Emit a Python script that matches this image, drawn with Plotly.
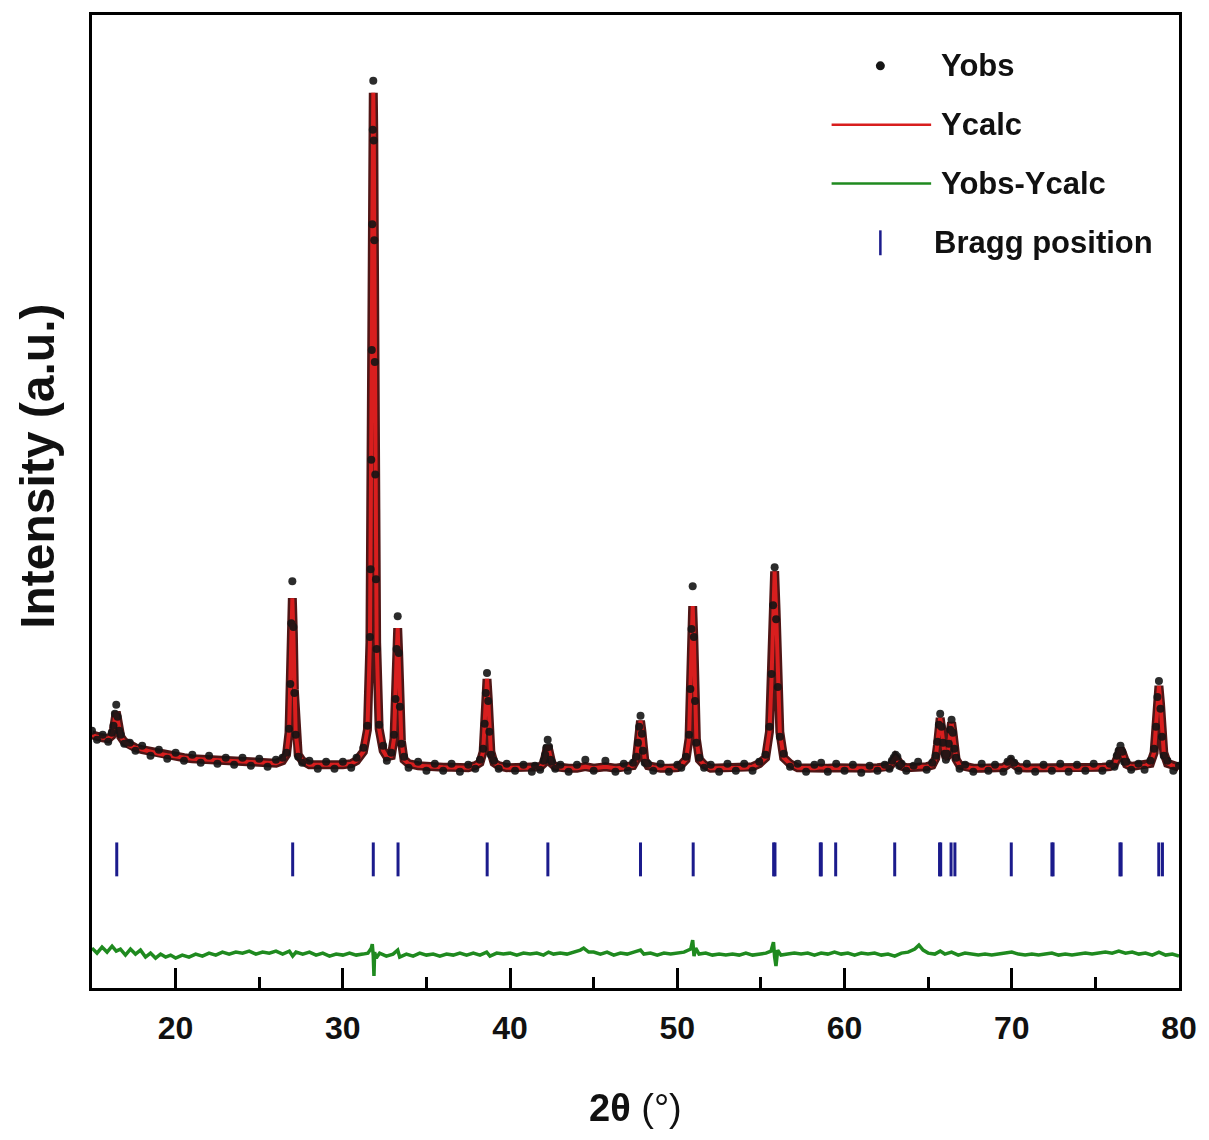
import plotly.graph_objects as go

# ---------------- data ----------------
# 2-theta grid (degrees) shared by observed and calculated patterns
two_theta = [
    15.0, 15.3, 15.64, 15.97, 16.18, 16.29, 16.37, 16.45, 16.53, 16.62, 16.72, 16.93, 17.26,
    17.6, 18.0, 18.5, 19.0, 19.5, 20.0, 20.5, 21.0, 21.5, 22.0, 22.5, 23.0, 23.5, 24.0, 24.5, 25.0, 25.5, 26.0,
    26.39, 26.63, 26.78, 26.86, 26.92, 26.98, 27.04, 27.10, 27.18, 27.33, 27.57,
    28.0, 28.5, 29.0, 29.5, 30.0, 30.5,
    30.82, 31.23, 31.47, 31.62, 31.66, 31.70, 31.73, 31.76, 31.79, 31.82, 31.85, 31.88, 31.91, 31.94, 31.98, 32.02, 32.17, 32.41,
    32.63, 32.90, 33.06, 33.15, 33.215, 33.28, 33.345, 33.41, 33.50, 33.66, 33.93,
    34.5, 35.0, 35.5, 36.0, 36.5, 37.0, 37.5,
    37.92, 38.20, 38.39, 38.48, 38.55, 38.62, 38.69, 38.76, 38.85, 39.04, 39.32,
    39.8, 40.3, 40.8, 41.3,
    41.49, 41.80, 42.00, 42.10, 42.17, 42.25, 42.33, 42.40, 42.50, 42.70, 43.01,
    43.5, 44.0, 44.5, 45.0, 45.7, 46.3, 46.8,
    47.04, 47.35, 47.55, 47.65, 47.72, 47.80, 47.88, 47.95, 48.05, 48.25, 48.56,
    49.0, 49.5, 50.0,
    50.24, 50.52, 50.70, 50.78, 50.85, 50.92, 50.99, 51.06, 51.14, 51.32, 51.60,
    52.0, 52.5, 53.0, 53.5, 54.0, 54.5,
    54.90, 55.28, 55.51, 55.63, 55.73, 55.82, 55.91, 56.01, 56.13, 56.36, 56.74,
    57.2, 57.7, 58.2, 58.6, 59.0, 59.5, 60.0, 60.5, 61.0, 61.5,
    61.97, 62.41, 62.69, 62.83, 62.94, 63.05, 63.16, 63.27, 63.41, 63.69, 64.13, 64.4,
    64.91, 65.24, 65.45, 65.555, 65.64, 65.72, 65.80, 65.885, 65.99, 66.06, 66.13, 66.235, 66.32, 66.40, 66.48, 66.565, 66.67, 66.88, 67.21,
    67.7, 68.2, 68.6, 69.0, 69.5, 69.75, 69.95, 70.15, 70.4, 70.9,
    71.4, 71.9, 72.4, 72.9, 73.4, 73.9, 74.4, 74.9,
    75.42, 75.86, 76.14, 76.28, 76.39, 76.50, 76.61, 76.72, 76.86, 77.14, 77.58,
    77.94, 78.29, 78.51, 78.62, 78.71, 78.80, 78.89, 78.98, 79.09, 79.31, 79.66, 80.0,
]

# calculated intensity (a.u.)
y_calc = [
    254, 252, 251, 250, 253, 260, 271, 277, 270, 260, 252, 247, 243,
    241, 239, 237, 235, 233.5, 232, 231, 230, 229.5, 229, 228.5, 228, 227.5, 227, 226.5, 226, 225.5, 225.5,
    228, 234, 256, 299, 356, 391, 356, 299, 256, 234, 228,
    224, 224, 223.5, 223.5, 224, 225,
    228, 237, 259, 347, 415, 523, 635, 757, 857, 898, 857, 757, 635, 523, 415, 347, 260, 238,
    232, 233, 250, 285, 332, 361, 332, 285, 248, 229, 225,
    223, 222, 222, 221.5, 221.5, 221, 221,
    223, 226, 237, 260, 291, 310, 291, 260, 237, 226, 223,
    221, 221, 220.5, 220.5,
    221, 222, 225, 231, 238, 243, 238, 231, 225, 222, 221,
    220.5, 220.5, 222, 220.5, 222, 220.5, 221,
    221.5, 223, 229, 242, 258, 268, 258, 242, 229, 223, 221.5,
    220.5, 220.5, 221,
    224, 229, 250, 293, 349, 383, 349, 293, 250, 229, 224,
    220.5, 220.5, 220.5, 220.5, 221, 222,
    225, 231, 257, 308, 377, 418, 377, 308, 257, 231, 225,
    221, 220.5, 220.5, 221.5, 220.5, 221, 220.5, 220.5, 220.5, 220.5,
    221, 221, 222.4, 225, 228.8, 231, 229, 225, 222.4, 221, 221, 222,
    222, 223.5, 230.4, 243.5, 260.8, 271, 261, 244.6, 232.8, 230.8, 232.3, 242.6, 257.4, 266.4, 256.8, 241.2, 229.4, 223.5, 221.6,
    220.5, 220.5, 220.5, 220.6, 221.2, 224, 227, 224, 221.2, 220.6,
    220.5, 220.5, 221, 220.5, 220.5, 220.5, 220.5, 221,
    221.4, 222, 224.5, 229.4, 236, 240, 236, 229.4, 224.5, 222.2, 223,
    222.6, 225.3, 236, 257.4, 286, 303, 286, 257, 236, 225.3, 222.6, 221.5,
]

# observed intensity (a.u.)
y_obs = [
    258, 249, 254, 247, 256, 263, 275, 284, 272, 258, 254, 245, 246,
    238, 243, 233, 239, 230, 236, 228, 234, 226, 233, 225, 231, 224, 231, 223, 230, 222, 229,
    231, 236, 260, 305, 366, 408, 362, 296, 254, 232, 226,
    228, 220, 227, 220, 227, 221,
    231, 241, 263, 352, 420, 530, 640, 766, 861, 910, 850, 750, 628, 515, 410, 340, 264, 243,
    228, 236, 254, 290, 340, 373, 336, 282, 245, 232, 221,
    227, 218, 225, 218, 225, 217, 224,
    220, 229, 240, 265, 296, 316, 288, 257, 234, 228, 220,
    225, 218, 224, 217,
    223, 219, 228, 234, 241, 249, 242, 229, 227, 220, 224,
    217, 224, 229, 218, 228, 217, 225,
    218, 226, 232, 246, 262, 273, 255, 238, 226, 225, 218,
    225, 217, 224,
    221, 232, 254, 300, 360, 403, 352, 288, 246, 231, 221,
    224, 217, 225, 218, 225, 218,
    227, 234, 262, 315, 384, 422, 370, 302, 252, 235, 222,
    225, 217, 224, 226, 217, 225, 218, 224, 216, 223,
    218, 224, 220, 228, 231, 234, 232, 223, 225, 218, 223, 227,
    219, 226, 233, 247, 264, 275, 262, 246, 235, 229, 235, 245, 259, 269, 256, 240, 231, 220, 224,
    217, 225, 218, 224, 217, 227, 230, 226, 218, 225,
    217, 224, 218, 225, 217, 224, 218, 225,
    218, 225, 222, 233, 238, 243, 237, 227, 227, 219, 225,
    219, 228, 240, 262, 292, 308, 280, 252, 233, 228, 218, 223,
]

# difference curve Yobs - Ycalc (a.u.)
diff_theta = [
    15.0, 15.3, 15.6, 15.9, 16.2, 16.45, 16.7, 17.0, 17.3, 17.6, 17.9, 18.2, 18.5, 18.8, 19.1, 19.4, 19.7,
    20.0, 20.4, 20.8, 21.2, 21.6, 22.0, 22.4, 22.8, 23.2, 23.6, 24.0, 24.4, 24.8, 25.2, 25.6, 26.0, 26.4,
    26.8, 27.0, 27.2, 27.6, 28.0, 28.4, 28.8, 29.2, 29.6, 30.0, 30.4, 30.8, 31.2, 31.5, 31.7, 31.76,
    31.82, 31.86, 31.9, 32.0, 32.2, 32.6, 33.0, 33.28, 33.4, 33.8, 34.2, 34.6, 35.0, 35.4, 35.8, 36.2,
    36.6, 37.0, 37.4, 37.8, 38.2, 38.6, 38.8, 39.2, 39.6, 40.0, 40.4, 40.8, 41.2, 41.6, 42.0, 42.3,
    42.6, 43.0, 43.4, 43.8, 44.2, 44.4, 44.7, 45.0, 45.4, 45.8, 46.2, 46.6, 47.0, 47.4, 47.8, 48.0,
    48.4, 48.8, 49.2, 49.6, 50.0, 50.4, 50.8, 50.92, 51.0, 51.1, 51.3, 51.7, 52.1, 52.5, 52.9, 53.3,
    53.7, 54.1, 54.5, 54.9, 55.3, 55.6, 55.75, 55.82, 55.9, 56.0, 56.2, 56.6, 57.0, 57.4, 57.8, 58.2,
    58.6, 59.0, 59.4, 59.8, 60.2, 60.6, 61.0, 61.4, 61.8, 62.2, 62.6, 63.0, 63.4, 63.8, 64.2, 64.45,
    64.7, 65.0, 65.4, 65.72, 66.0, 66.4, 66.8, 67.2, 67.6, 68.0, 68.4, 68.8, 69.2, 69.6, 70.0, 70.4,
    70.8, 71.2, 71.6, 72.0, 72.4, 72.8, 73.2, 73.6, 74.0, 74.4, 74.8, 75.2, 75.6, 76.0, 76.4, 76.8,
    77.2, 77.6, 78.0, 78.4, 78.8, 79.2, 79.6, 80.0,
]
y_diff = [
    6, 1, 7, 2, 8, 3, 5, -1, 5, 0, 4, -3, 1, -4, 0, -3, -1,
    -4, -1, -3, 0, -2, 1, -1, 2, 0, 2, 1, 3, 0, 2, 1, 3, 0,
    3, -2, 2, 0, 2, -1, 1, -2, 0, -1, 1, -1, 0, 1, 6, 10,
    -2, -22, 2, -4, 1, -2, 0, 4, -3, 0, -2, 1, -1, 0, -2, 0,
    -1, 1, -1, 1, -1, 2, -2, 1, 0, 1, -1, 1, 0, 1, -1, 2,
    0, 1, 0, 2, 4, 6, 2, 2, 0, 2, -1, 1, 0, 2, 4, 0,
    1, -1, 1, 0, 1, 2, 5, 14, -2, 6, 0, 1, -1, 0, -1, 0,
    -1, 1, -1, 0, 1, 3, 12, -3, -12, 4, -1, 0, 1, 0, 1, -1,
    1, 0, 2, 0, 1, -1, 1, 0, 1, -1, 0, -2, 1, 2, 5, 9,
    4, 1, 0, 3, 0, 2, -1, 1, 0, -1, 0, -1, 0, 1, 2, 0,
    -1, 0, -1, 0, 1, -1, 0, -1, 0, 1, 0, 1, 2, 1, 3, 1,
    2, 0, 1, -1, 2, -1, 0, -2,
]

# Bragg reflection positions (degrees)
bragg_positions = [
    16.48, 27.0, 31.82, 33.3, 38.63, 42.26, 47.8, 50.95, 55.76, 55.84,
    58.55, 58.61, 59.47, 63.0, 65.68, 65.75, 66.37, 66.6, 69.97,
    72.4, 72.47, 76.47, 76.54, 78.79, 79.01,
]

assert len(two_theta) == len(y_calc) == len(y_obs)
assert len(diff_theta) == len(y_diff)

# ---------------- layout / style constants ----------------
W, H = 1209, 1140
M_L, M_R, M_T, M_B = 92, 25, 12, 152
X_RANGE = [15, 80]
Y_RANGE = [0, 976]
DIFF_BASELINE = 34
BRAGG_Y0, BRAGG_Y1 = 112, 146

RED = "#d81e1e"
HALO = "#4f1616"
GREEN = "#1f8a1f"
NAVY = "#1b1b8c"
BLACK = "#151515"
FONT = "Liberation Sans, Arial, Helvetica, sans-serif"

fig = go.Figure()

# dense cloud of observed points rendered as a dark halo along the fit
fig.add_trace(go.Scatter(
    x=two_theta, y=y_calc, mode="lines",
    line=dict(color=HALO, width=9), showlegend=False, hoverinfo="skip",
))
fig.add_trace(go.Scatter(
    x=two_theta, y=y_calc, mode="lines", name="Ycalc",
    line=dict(color=RED, width=4), showlegend=False,
))
fig.add_trace(go.Scatter(
    x=two_theta, y=y_obs, mode="markers", name="Yobs",
    marker=dict(color=BLACK, size=8), opacity=0.9, showlegend=False,
))
fig.add_trace(go.Scatter(
    x=diff_theta, y=[d + DIFF_BASELINE for d in y_diff], mode="lines", name="Yobs-Ycalc",
    line=dict(color=GREEN, width=3.5), showlegend=False,
))
bx, by = [], []
for p in bragg_positions:
    bx += [p, p, None]
    by += [BRAGG_Y0, BRAGG_Y1, None]
fig.add_trace(go.Scatter(
    x=bx, y=by, mode="lines", name="Bragg position",
    line=dict(color=NAVY, width=3), showlegend=False,
))

# ---------------- manual legend (top right) ----------------
PW, PH = W - M_L - M_R, H - M_T - M_B


def pxx(px):
    return (px - M_L) / PW


def pxy(py):
    return (M_T + PH - py) / PH


shapes = [
    dict(type="circle", xref="paper", yref="paper", xsizemode="pixel", ysizemode="pixel",
         xanchor=pxx(884), yanchor=pxy(63), x0=-4.5, x1=4.5, y0=-4.5, y1=4.5,
         fillcolor=BLACK, line=dict(width=0)),
    dict(type="line", xref="paper", yref="paper", x0=pxx(835), x1=pxx(935),
         y0=pxy(122), y1=pxy(122), line=dict(color=RED, width=2.5)),
    dict(type="line", xref="paper", yref="paper", x0=pxx(835), x1=pxx(935),
         y0=pxy(181), y1=pxy(181), line=dict(color=GREEN, width=2.5)),
    dict(type="line", xref="paper", yref="paper", x0=pxx(884), x1=pxx(884),
         y0=pxy(228), y1=pxy(253), line=dict(color=NAVY, width=2.5)),
]
legend_labels = ["Yobs", "Ycalc", "Yobs-Ycalc", "Bragg position"]
legend_rows = [63, 122, 181, 240]
legend_text_x = [943, 943, 943, 936]
annotations = []
for lab, ry, tx in zip(legend_labels, legend_rows, legend_text_x):
    annotations.append(dict(
        text=lab, xref="paper", yref="paper", x=pxx(tx), y=pxy(ry),
        xanchor="left", yanchor="middle", showarrow=False,
        font=dict(family=FONT, size=31, color="#111", weight="bold"),
    ))

# axis titles
annotations.append(dict(
    text="Intensity (a.u.)", xref="paper", yref="paper", x=pxx(37), y=pxy(465),
    xanchor="center", yanchor="middle", textangle=-90, showarrow=False,
    font=dict(family=FONT, size=48, color="#111", weight="bold"),
))
annotations.append(dict(
    text="<b>2θ</b> (°)", xref="paper", yref="paper", x=pxx(638), y=pxy(1108),
    xanchor="center", yanchor="middle", showarrow=False,
    font=dict(family=FONT, size=38, color="#111"),
))

fig.update_layout(
    width=W, height=H,
    margin=dict(l=M_L, r=M_R, t=M_T, b=M_B, pad=0),
    paper_bgcolor="white", plot_bgcolor="white",
    showlegend=False,
    shapes=shapes, annotations=annotations,
    xaxis=dict(
        range=X_RANGE, showgrid=False, zeroline=False,
        showline=True, linecolor="black", linewidth=3, mirror=True,
        ticks="inside", ticklen=20, tickwidth=2.5, tickcolor="black",
        tick0=0, dtick=10, ticklabelstandoff=10,
        tickfont=dict(family=FONT, size=32, color="#111", weight="bold"),
        minor=dict(ticks="inside", ticklen=11, tickwidth=2.5, tickcolor="black", tick0=0, dtick=5),
    ),
    yaxis=dict(
        range=Y_RANGE, showgrid=False, zeroline=False,
        showline=True, linecolor="black", linewidth=3, mirror=True,
        ticks="", showticklabels=False,
    ),
)

fig.write_html("out.html", config={"displayModeBar": False},
               post_script="document.body.style.margin='0';")
